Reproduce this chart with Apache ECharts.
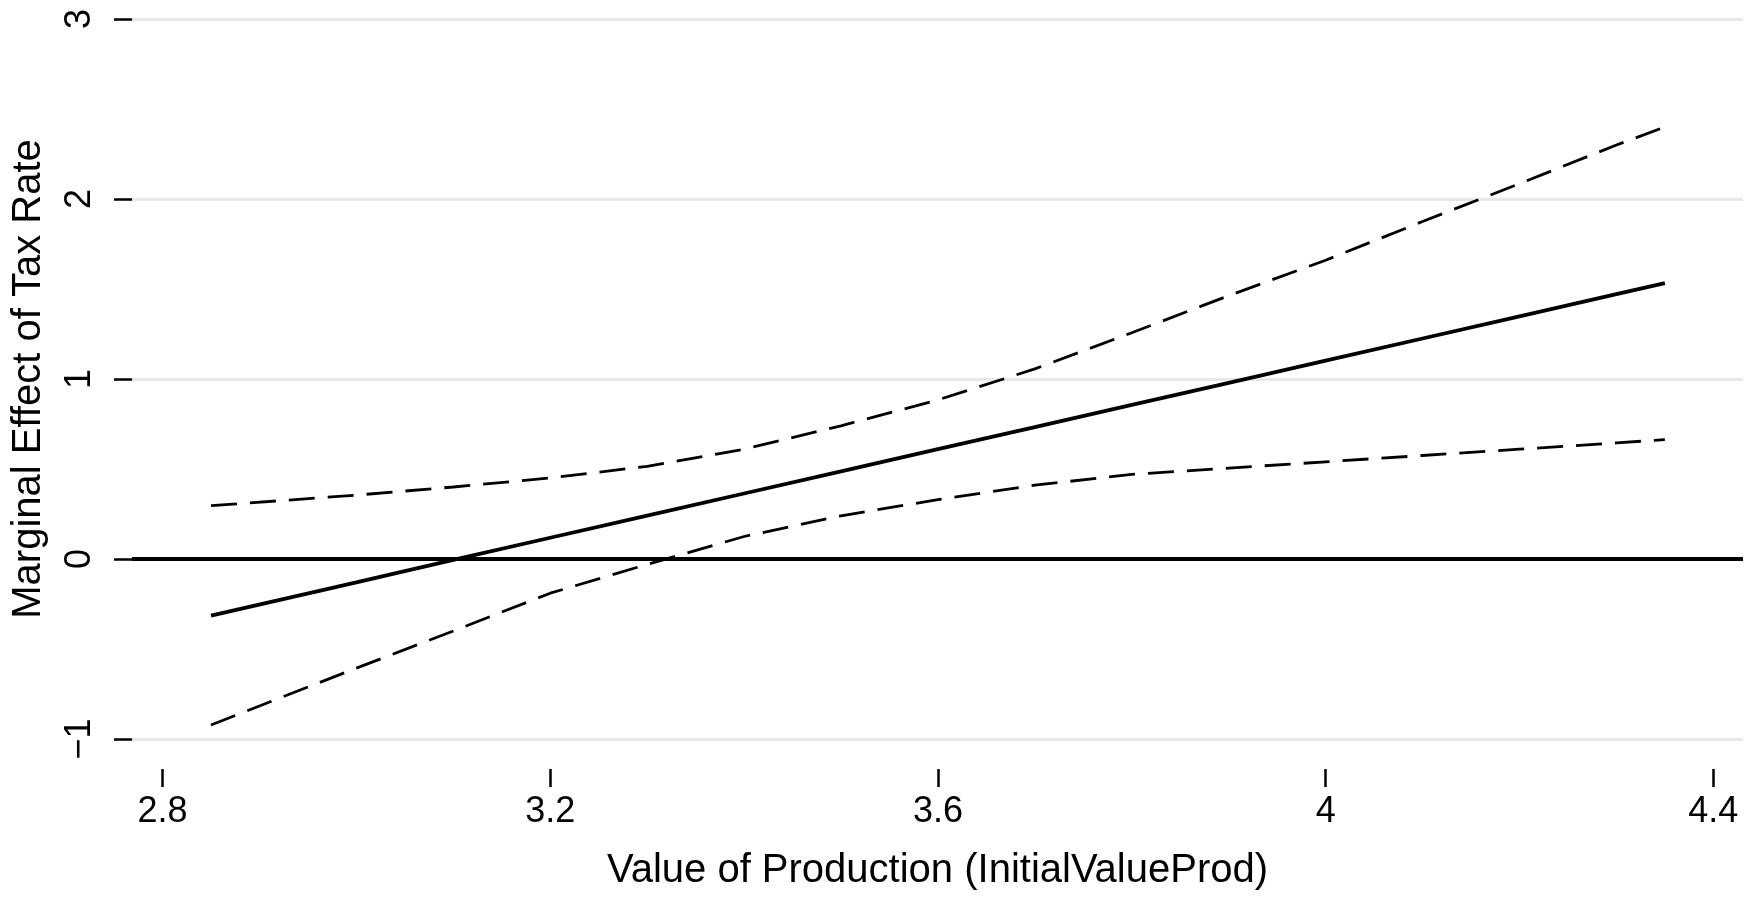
<!DOCTYPE html>
<html>
<head>
<meta charset="utf-8">
<title>Marginal Effect of Tax Rate</title>
<script src="https://cdn.jsdelivr.net/npm/echarts@6/dist/echarts.min.js"></script>
<style>
  html, body { margin: 0; padding: 0; background: #fff; }
  #chart { width: 1754px; height: 900px; }
</style>
</head>
<body>
<div id="chart"></div>
<script>
// values
const xValues = [2.85, 3.0, 3.1, 3.2, 3.3, 3.4, 3.5, 3.6, 3.7, 3.8, 3.9, 4.0, 4.1, 4.2, 4.3, 4.35];
const effect  = [-0.315, -0.13, -0.005, 0.118, 0.241, 0.364, 0.487, 0.61, 0.733, 0.856, 0.979, 1.102, 1.225, 1.348, 1.471, 1.533];
const upperCI = [0.296, 0.355, 0.40, 0.45, 0.515, 0.61, 0.74, 0.884, 1.056, 1.257, 1.463, 1.66, 1.875, 2.085, 2.30, 2.40];
const lowerCI = [-0.922, -0.606, -0.40, -0.19, -0.03, 0.125, 0.24, 0.33, 0.41, 0.47, 0.505, 0.54, 0.575, 0.61, 0.645, 0.663];

const xTicks = [2.8, 3.2, 3.6, 4, 4.4];
const yTicks = [-1, 0, 1, 2, 3];

const xTitle = 'Value of Production (InitialValueProd)';
const yTitle = 'Marginal Effect of Tax Rate';

const pairs = (ys) => xValues.map((x, i) => [x, ys[i]]);
// stata prints a real minus sign
const fmt = (v) => String(v).replace('-', '\u2212');

const chart = echarts.init(document.getElementById('chart'));
const font = 'Liberation Sans, Arial, Helvetica, sans-serif';

chart.setOption({
  backgroundColor: '#fff',
  animation: false,
  textStyle: { fontFamily: font, color: '#000' },
  grid: {
    left: 132,
    right: 11,
    top: 19,
    bottom: 161,
    containLabel: false,
    outerBoundsMode: 'none'
  },
  xAxis: {
    type: 'value',
    min: 2.7685,
    max: 4.4306,
    offset: 30,
    name: xTitle,
    nameLocation: 'middle',
    nameGap: 82,
    nameTextStyle: { fontSize: 40, color: '#000', fontFamily: font },
    axisLine: { show: false, onZero: false },
    axisTick: {
      show: true,
      length: 18,
      customValues: xTicks,
      lineStyle: { color: '#000', width: 2.5 }
    },
    axisLabel: {
      customValues: xTicks,
      fontSize: 36,
      color: '#000',
      margin: 25,
      fontFamily: font,
      formatter: fmt
    },
    splitLine: { show: false }
  },
  yAxis: {
    type: 'value',
    min: yTicks[0],
    max: yTicks[yTicks.length - 1],
    interval: 1,
    name: yTitle,
    nameLocation: 'middle',
    nameGap: 83,
    nameTextStyle: { fontSize: 40, color: '#000', fontFamily: font },
    axisLine: { show: false, onZero: false },
    axisTick: {
      show: true,
      length: 18,
      lineStyle: { color: '#000', width: 2.5 }
    },
    axisLabel: {
      rotate: 90,
      fontSize: 36,
      color: '#000',
      margin: 34,
      fontFamily: font,
      formatter: fmt
    },
    splitLine: { show: true, lineStyle: { color: '#e8e8e8', width: 3 } }
  },
  series: [
    {
      name: 'Marginal effect',
      type: 'line',
      data: pairs(effect),
      showSymbol: false,
      lineStyle: { color: '#000', width: 3.8 },
      z: 3,
      markLine: {
        silent: true,
        symbol: 'none',
        label: { show: false },
        lineStyle: { color: '#000', width: 3.8, type: 'solid' },
        data: [{ yAxis: 0 }]
      }
    },
    {
      name: 'Upper 95% CI',
      type: 'line',
      data: pairs(upperCI),
      showSymbol: false,
      lineStyle: { color: '#000', width: 2.8, type: [26, 13] }
    },
    {
      name: 'Lower 95% CI',
      type: 'line',
      data: pairs(lowerCI),
      showSymbol: false,
      lineStyle: { color: '#000', width: 2.8, type: [26, 13] }
    }
  ]
});
</script>
</body>
</html>
